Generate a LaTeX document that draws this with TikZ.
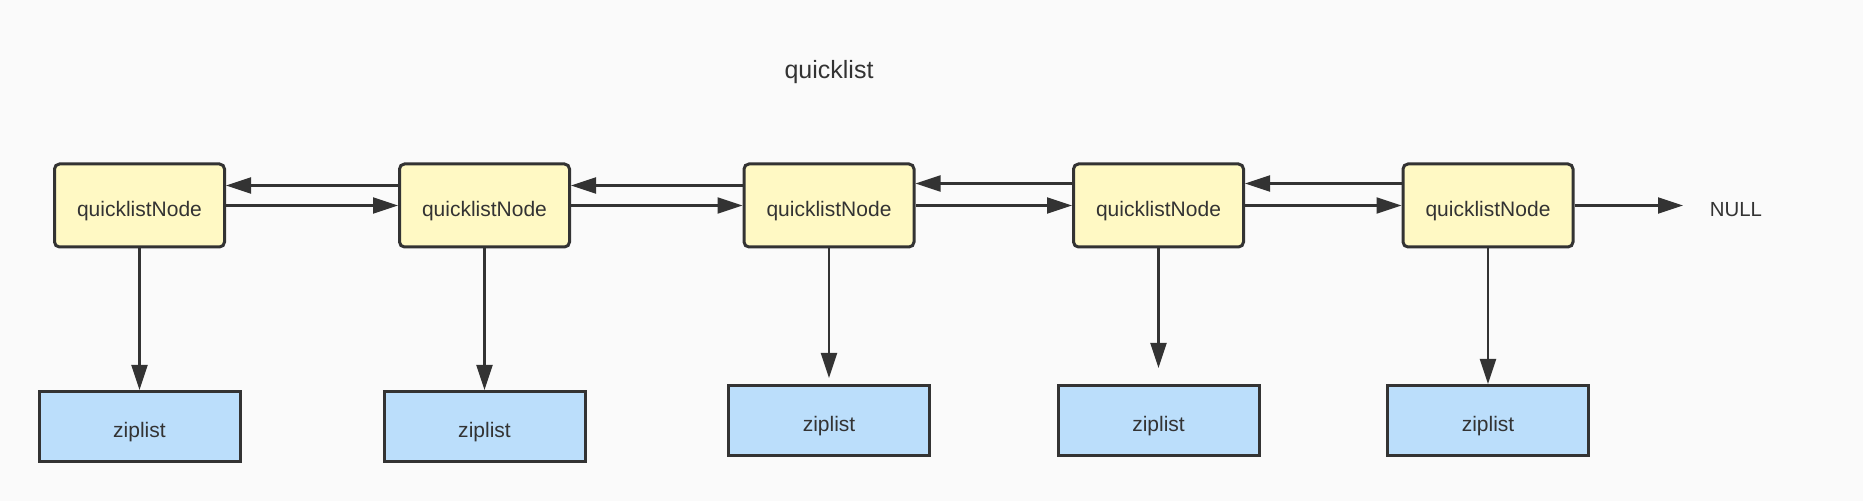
\documentclass[tikz,border=0pt]{standalone}
\usepackage{fontspec}
\setmainfont{Liberation Sans}
\usetikzlibrary{arrows.meta,calc}
\definecolor{bg}{HTML}{FAFAFA}
\definecolor{qfill}{HTML}{FFF9C4}
\definecolor{zfill}{HTML}{BBDEFB}
\definecolor{ink}{HTML}{333333}
\newcommand{\lowered}[1]{\raisebox{-2.8pt}[\height][\depth]{#1}}
\begin{document}
\begin{tikzpicture}[x=0.5pt,y=-0.5pt,
  qnode/.style={draw=ink, line width=1.5pt, fill=qfill, rounded corners=2.5pt,
    minimum width=85pt, minimum height=41.5pt, inner sep=0pt,
    font=\fontsize{10.5}{12}\selectfont, text=ink},
  znode/.style={draw=ink, line width=1.5pt, fill=zfill,
    minimum width=100.5pt, minimum height=35pt, inner sep=0pt,
    font=\fontsize{10.5}{12}\selectfont, text=ink},
  lbl/.style={inner sep=0pt, text=ink},
  arr/.style={draw=ink, line width=1.1pt, -{Triangle[length=12.5pt,width=8pt]}},
]
\fill[bg] (0,0) rectangle (1863,501);
\useasboundingbox (0,0) rectangle (1863,501);

\node[lbl, font=\fontsize{12.5}{14}\selectfont] (title) at (829,72.5) {quicklist};

\node[qnode] (n1) at (139.5,205.5) {\lowered{quicklistNode}};
\node[qnode] (n2) at (484.5,205.5) {\lowered{quicklistNode}};
\node[qnode] (n3) at (829,205.5) {\lowered{quicklistNode}};
\node[qnode] (n4) at (1158.5,205.5) {\lowered{quicklistNode}};
\node[qnode] (n5) at (1488,205.5) {\lowered{quicklistNode}};

\node[znode] (z1) at (139.5,426.5) {\lowered{ziplist}};
\node[znode] (z2) at (484.5,426.5) {\lowered{ziplist}};
\node[znode] (z3) at (829,420.5) {\lowered{ziplist}};
\node[znode] (z4) at (1158.5,420.5) {\lowered{ziplist}};
\node[znode] (z5) at (1488,420.5) {\lowered{ziplist}};

\node[lbl, font=\fontsize{10.2}{12}\selectfont] (null) at (1736,209.5) {NULL};
\coordinate (nullend) at (1683,205.5);

% forward pointers
\draw[arr] (n1.east) -- (n2.west);
\draw[arr] (n2.east) -- (n3.west);
\draw[arr] (n3.east) -- (n4.west);
\draw[arr] (n4.east) -- (n5.west);
\draw[arr] (n5.east) -- (nullend);

% backward pointers
\draw[arr] ($(n2.west)+(0,-20)$) -- ($(n1.east)+(0,-20)$);
\draw[arr] ($(n3.west)+(0,-20)$) -- ($(n2.east)+(0,-20)$);
\draw[arr] ($(n4.west)+(0,-22)$) -- ($(n3.east)+(0,-22)$);
\draw[arr] ($(n5.west)+(0,-22)$) -- ($(n4.east)+(0,-22)$);

% node to ziplist
\draw[arr] (n1.south) -- (z1.north);
\draw[arr] (n2.south) -- (z2.north);
\draw[arr] (n3.south) -- ($(z3.north)+(0,-6)$);
\draw[arr] (n4.south) -- ($(z4.north)+(0,-16)$);
\draw[arr] (n5.south) -- (z5.north);
\end{tikzpicture}
\end{document}
